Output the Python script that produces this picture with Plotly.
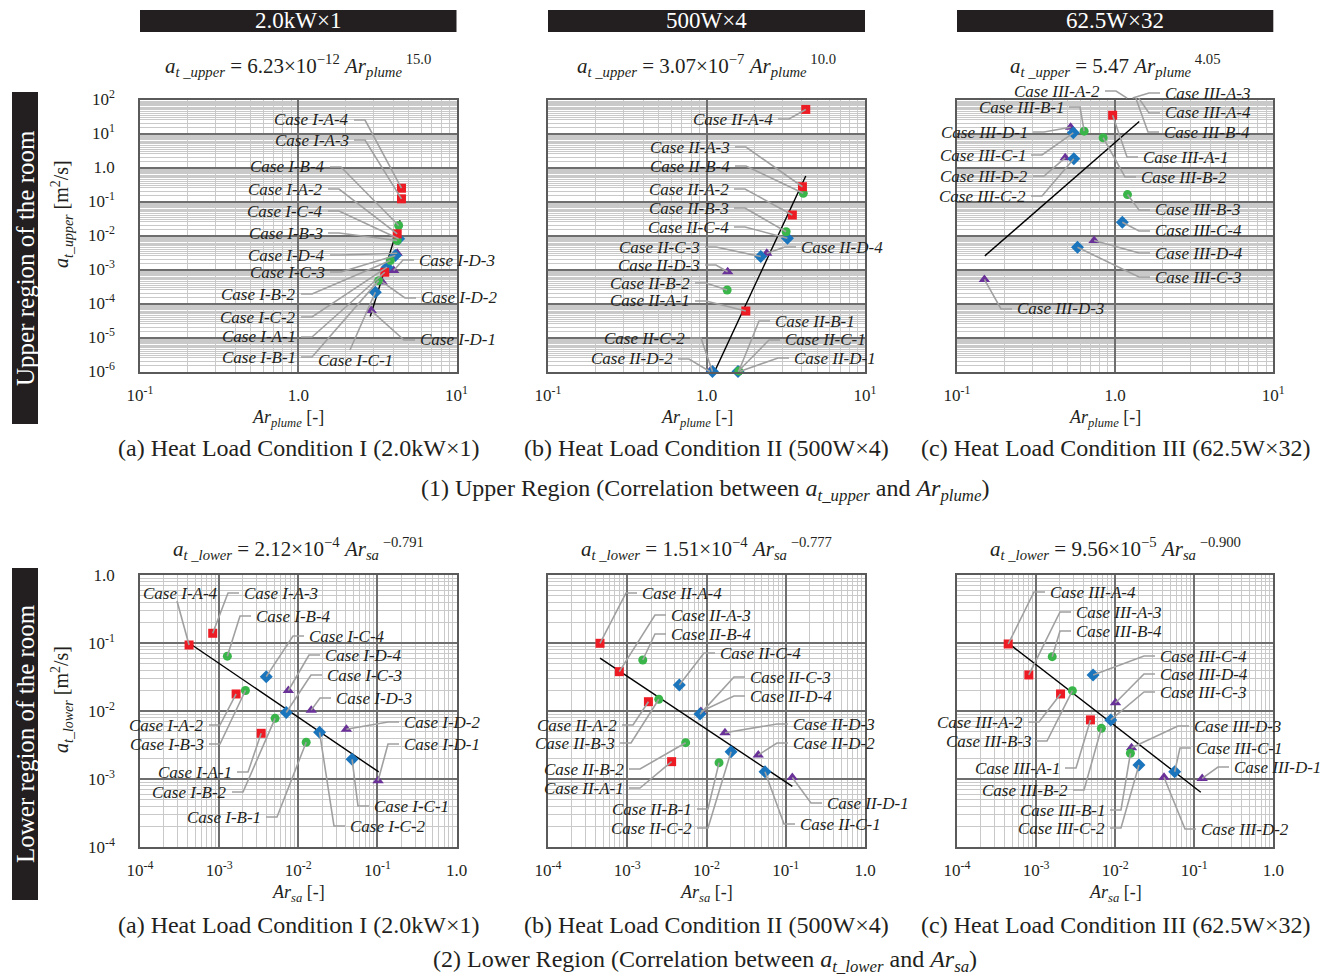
import math
import plotly.graph_objects as go

W, H = 1329, 978
SERIF = "Liberation Serif"
INK = "#231f20"

# ---------------- data ----------------
# Cases 1..4 of every series (A, B, C, D)
# (1) Upper region : x = Ar_plume , y = a_t_upper
up_I_A_x = [3.52, 4.22, 4.49, 4.49]
up_I_A_y = [8.3e-4, 0.0112, 0.12, 0.246]
up_I_B_x = [3.22, 3.82, 4.22, 4.31]
up_I_B_y = [4.7e-4, 1.84e-3, 7.1e-3, 0.0197]
up_I_C_x = [3.07, 3.64, 4.11, 4.31]
up_I_C_y = [2.15e-4, 1.17e-3, 2.58e-3, 8.0e-3]
up_I_D_x = [2.89, 3.39, 4.01, 4.22]
up_I_D_y = [6.2e-5, 4.3e-4, 9.3e-4, 3.0e-3]

up_II_A_x = [1.77, 3.48, 4.03, 4.23]
up_II_A_y = [6.0e-5, 0.040, 0.272, 51.0]
up_II_B_x = [1.60, 1.35, 3.18, 4.08]
up_II_B_y = [1.03e-6, 2.5e-4, 0.0129, 0.174]
up_II_C_x = [1.58, 1.09, 2.20, 3.24]
up_II_C_y = [1.0e-6, 1.0e-6, 2.4e-3, 8.3e-3]
up_II_D_x = [1.62, 1.05, 1.36, 2.40]
up_II_D_y = [1.0e-6, 1.0e-6, 8.6e-4, 3.0e-3]

up_III_A_x = [0.964, 1.19, 1.29, 1.41]
up_III_A_y = [34.5, 110.0, 110.0, 110.0]
up_III_B_x = [0.637, 0.84, 1.197, 1.35]
up_III_B_y = [11.7, 7.5, 0.16, 110.0]
up_III_C_x = [0.544, 0.548, 0.578, 1.11]
up_III_C_y = [10.5, 1.8, 4.5e-3, 0.0246]
up_III_D_x = [0.523, 0.483, 0.149, 0.736]
up_III_D_y = [15.3, 1.93, 5.1e-4, 7.1e-3]

# (2) Lower region : x = Ar_sa , y = a_t_lower
lo_I_A_x = [3.4e-3, 1.64e-3, 8.3e-4, 4.17e-4]
lo_I_A_y = [4.7e-3, 0.0178, 0.139, 0.0935]
lo_I_B_x = [0.0126, 5.1e-3, 2.15e-3, 1.27e-3]
lo_I_B_y = [3.47e-3, 7.8e-3, 0.020, 0.064]
lo_I_C_x = [0.0479, 0.0186, 7.05e-3, 3.94e-3]
lo_I_C_y = [1.95e-3, 4.86e-3, 9.5e-3, 0.032]
lo_I_D_x = [0.102, 0.0406, 0.0146, 7.5e-3]
lo_I_D_y = [9.4e-4, 5.4e-3, 0.0103, 0.020]

lo_II_A_x = [3.63e-3, 1.85e-3, 7.94e-4, 4.53e-4]
lo_II_A_y = [1.8e-3, 0.0137, 0.0379, 0.099]
lo_II_B_x = [0.0144, 5.46e-3, 2.5e-3, 1.57e-3]
lo_II_B_y = [1.74e-3, 3.42e-3, 0.0149, 0.0562]
lo_II_C_x = [0.0547, 0.0204, 8.28e-3, 4.54e-3]
lo_II_C_y = [1.28e-3, 2.52e-3, 9.0e-3, 0.0241]
lo_II_D_x = [0.121, 0.045, 0.0171, 8.5e-3]
lo_II_D_y = [1.05e-3, 2.25e-3, 4.8e-3, 9.8e-3]

lo_III_A_x = [4.87e-3, 2.04e-3, 8.1e-4, 4.44e-4]
lo_III_A_y = [7.4e-3, 0.0178, 0.0339, 0.0967]
lo_III_B_x = [0.0156, 6.7e-3, 2.88e-3, 1.6e-3]
lo_III_B_y = [2.39e-3, 5.56e-3, 0.0199, 0.063]
lo_III_C_x = [0.0566, 0.020, 8.8e-3, 5.26e-3]
lo_III_C_y = [1.28e-3, 1.61e-3, 7.4e-3, 0.0339]
lo_III_D_x = [0.126, 0.0415, 0.0161, 0.0101]
lo_III_D_y = [1.02e-3, 1.06e-3, 2.89e-3, 0.0132]

# correlation lines  a = coef * Ar ** expo , drawn between xmin and xmax
fit_coef = [6.23e-12, 3.07e-7, 5.47, 2.12e-4, 1.51e-4, 9.56e-5]
fit_expo = [15.0, 10.0, 4.05, -0.791, -0.777, -0.900]
fit_xmin = [2.85, 1.09, 0.150, 4.17e-4, 4.53e-4, 4.44e-4]
fit_xmax = [4.40, 4.23, 1.42, 0.104, 0.121, 0.121]

fit_text = [
    "<i>a</i><sub><i>t _upper</i></sub> = 6.23×10<sup>−12</sup> <i>Ar</i><sub><i>plume</i></sub><sup> 15.0</sup>",
    "<i>a</i><sub><i>t _upper</i></sub> = 3.07×10<sup>−7</sup> <i>Ar</i><sub><i>plume</i></sub><sup> 10.0</sup>",
    "<i>a</i><sub><i>t _upper</i></sub> = 5.47 <i>Ar</i><sub><i>plume</i></sub><sup> 4.05</sup>",
    "<i>a</i><sub><i>t _lower</i></sub> = 2.12×10<sup>−4</sup> <i>Ar</i><sub><i>sa</i></sub><sup> −0.791</sup>",
    "<i>a</i><sub><i>t _lower</i></sub> = 1.51×10<sup>−4</sup> <i>Ar</i><sub><i>sa</i></sub><sup> −0.777</sup>",
    "<i>a</i><sub><i>t _lower</i></sub> = 9.56×10<sup>−5</sup> <i>Ar</i><sub><i>sa</i></sub><sup> −0.900</sup>",
]

top_titles = ["2.0kW×1", "500W×4", "62.5W×32"]
captions = ["(a) Heat Load Condition I (2.0kW×1)",
            "(b) Heat Load Condition II (500W×4)",
            "(c) Heat Load Condition III (62.5W×32)"]
row_captions = [
    "(1) Upper Region (Correlation between <i>a</i><sub><i>t_upper</i></sub> and <i>Ar</i><sub><i>plume</i></sub>)",
    "(2) Lower Region (Correlation between <i>a</i><sub><i>t_lower</i></sub> and <i>Ar</i><sub><i>sa</i></sub>)",
]
side_titles = ["Upper region of the room", "Lower region of the room"]
x_titles = ["<i>Ar</i><sub><i>plume</i></sub> [-]", "<i>Ar</i><sub><i>sa</i></sub> [-]"]
y_titles = ["<i>a</i><sub><i>t_upper</i></sub> [m<sup>2</sup>/s]",
            "<i>a</i><sub><i>t_lower</i></sub> [m<sup>2</sup>/s]"]

up_x_ticks = [0.1, 1, 10]
up_x_text = ["10<sup>-1</sup>", "1.0", "10<sup>1</sup>"]
up_y_ticks = [1e-6, 1e-5, 1e-4, 1e-3, 1e-2, 1e-1, 1, 10, 100]
up_y_text = ["10<sup>-6</sup>", "10<sup>-5</sup>", "10<sup>-4</sup>", "10<sup>-3</sup>",
             "10<sup>-2</sup>", "10<sup>-1</sup>", "1.0", "10<sup>1</sup>", "10<sup>2</sup>"]
lo_ticks = [1e-4, 1e-3, 1e-2, 1e-1, 1]
lo_text = ["10<sup>-4</sup>", "10<sup>-3</sup>", "10<sup>-2</sup>", "10<sup>-1</sup>", "1.0"]

# ---------------- styles / layout geometry ----------------
SER_STYLE = {
    "A": dict(symbol="square", color="#ed1c24", size=9),
    "B": dict(symbol="circle", color="#39b54a", size=9),
    "C": dict(symbol="diamond", color="#1b75bc", size=10),
    "D": dict(symbol="triangle-up", color="#6a3198", size=10),
}
LEAD_COLOR = "#a0a0a0"

BOX_X = [(140, 456.5), (548, 865), (957, 1273.3)]
BOX_Y = [(99.5, 371.5), (575, 847)]
RANGES = [((-1, 1), (-6, 2)), ((-4, 0), (-4, 0))]

panel_data = [
    {"A": (up_I_A_x, up_I_A_y), "B": (up_I_B_x, up_I_B_y), "C": (up_I_C_x, up_I_C_y), "D": (up_I_D_x, up_I_D_y)},
    {"A": (up_II_A_x, up_II_A_y), "B": (up_II_B_x, up_II_B_y), "C": (up_II_C_x, up_II_C_y), "D": (up_II_D_x, up_II_D_y)},
    {"A": (up_III_A_x, up_III_A_y), "B": (up_III_B_x, up_III_B_y), "C": (up_III_C_x, up_III_C_y), "D": (up_III_D_x, up_III_D_y)},
    {"A": (lo_I_A_x, lo_I_A_y), "B": (lo_I_B_x, lo_I_B_y), "C": (lo_I_C_x, lo_I_C_y), "D": (lo_I_D_x, lo_I_D_y)},
    {"A": (lo_II_A_x, lo_II_A_y), "B": (lo_II_B_x, lo_II_B_y), "C": (lo_II_C_x, lo_II_C_y), "D": (lo_II_D_x, lo_II_D_y)},
    {"A": (lo_III_A_x, lo_III_A_y), "B": (lo_III_B_x, lo_III_B_y), "C": (lo_III_C_x, lo_III_C_y), "D": (lo_III_D_x, lo_III_D_y)},
]

# label placement (pixel position of text anchor, anchor side)
LABELS = [
    [("I-A-4", 351, 120, "r"), ("I-A-3", 351, 140, "r"), ("I-B-4", 327, 167, "r"), ("I-A-2", 325, 189, "r"),
     ("I-C-4", 325, 211, "r"), ("I-B-3", 325, 233, "r"), ("I-D-4", 327, 255, "r"), ("I-C-3", 327, 272, "r"),
     ("I-B-2", 298, 294, "r"), ("I-C-2", 298, 317, "r"), ("I-A-1", 298, 337, "r"), ("I-B-1", 298, 357, "r"),
     ("I-C-1", 355, 360, "c"), ("I-D-3", 417, 260, "l"), ("I-D-2", 419, 298, "l"), ("I-D-1", 418, 340, "l")],
    [("II-A-4", 775, 119, "r"), ("II-A-3", 732, 147, "r"), ("II-B-4", 732, 166, "r"), ("II-A-2", 731, 189, "r"),
     ("II-B-3", 731, 208, "r"), ("II-C-4", 731, 227, "r"), ("II-C-3", 702, 247, "r"), ("II-D-3", 702, 265, "r"),
     ("II-B-2", 692, 283, "r"), ("II-A-1", 692, 301, "r"), ("II-C-2", 687, 338, "r"), ("II-D-2", 675, 359, "r"),
     ("II-D-4", 799, 247, "l"), ("II-B-1", 773, 321, "l"), ("II-C-1", 783, 340, "l"), ("II-D-1", 792, 358, "l")],
    [("III-A-2", 1102, 91, "r"), ("III-B-1", 1066, 107, "r"), ("III-D-1", 1030, 132, "r"), ("III-C-1", 1028, 155, "r"),
     ("III-D-2", 1030, 176, "r"), ("III-C-2", 1028, 196, "r"), ("III-A-3", 1163, 93, "l"), ("III-A-4", 1163, 113, "l"),
     ("III-B-4", 1162, 132, "l"), ("III-A-1", 1141, 157, "l"), ("III-B-2", 1139, 177, "l"), ("III-B-3", 1153, 210, "l"),
     ("III-C-4", 1153, 231, "l"), ("III-D-4", 1153, 253, "l"), ("III-C-3", 1153, 277, "l"), ("III-D-3", 1015, 309, "l")],
    [("I-A-4", 220, 593, "r"), ("I-A-3", 242, 593, "l"), ("I-B-4", 254, 616, "l"), ("I-C-4", 307, 636, "l"),
     ("I-D-4", 323, 655, "l"), ("I-C-3", 325, 675, "l"), ("I-D-3", 334, 698, "l"), ("I-D-2", 402, 722, "l"),
     ("I-D-1", 402, 744, "l"), ("I-C-1", 372, 806, "l"), ("I-C-2", 348, 826, "l"), ("I-A-2", 206, 725, "r"),
     ("I-B-3", 206, 744, "r"), ("I-A-1", 234, 772, "r"), ("I-B-2", 229, 792, "r"), ("I-B-1", 263, 817, "r")],
    [("II-A-4", 640, 593, "l"), ("II-A-3", 669, 615, "l"), ("II-B-4", 669, 634, "l"), ("II-C-4", 718, 653, "l"),
     ("II-C-3", 748, 677, "l"), ("II-D-4", 748, 696, "l"), ("II-D-3", 791, 724, "l"), ("II-D-2", 791, 743, "l"),
     ("II-D-1", 825, 803, "l"), ("II-C-1", 798, 824, "l"), ("II-A-2", 619, 725, "r"), ("II-B-3", 617, 743, "r"),
     ("II-B-2", 626, 769, "r"), ("II-A-1", 626, 788, "r"), ("II-B-1", 694, 809, "r"), ("II-C-2", 694, 828, "r")],
    [("III-A-4", 1048, 592, "l"), ("III-A-3", 1074, 612, "l"), ("III-B-4", 1074, 631, "l"), ("III-C-4", 1158, 656, "l"),
     ("III-D-4", 1158, 674, "l"), ("III-C-3", 1158, 692, "l"), ("III-D-3", 1192, 726, "l"), ("III-C-1", 1194, 748, "l"),
     ("III-D-1", 1232, 767, "l"), ("III-D-2", 1199, 829, "l"), ("III-A-2", 1025, 722, "r"), ("III-B-3", 1033, 741, "r"),
     ("III-A-1", 1062, 768, "r"), ("III-B-2", 1070, 790, "r"), ("III-B-1", 1107, 810, "r"), ("III-C-2", 1107, 828, "r")],
]
LEAD_START = {(0, "I-C-1"): (350, 350), (3, "I-A-4"): (177, 601)}


def ids(p):
    return ("x", "y") if p == 0 else (f"x{p+1}", f"y{p+1}")


def to_px(p, x, y):
    r, c = divmod(p, 3)
    x0, x1 = BOX_X[c]
    y0, y1 = BOX_Y[r]
    (rx0, rx1), (ry0, ry1) = RANGES[r]
    lx, ly = math.log10(x), math.log10(y)
    return (x0 + (lx - rx0) / (rx1 - rx0) * (x1 - x0),
            y0 + (ry1 - ly) / (ry1 - ry0) * (y1 - y0))


def fx(px):
    return px / W


def fy(py):
    return 1 - py / H


def note(text, px, py, size, color=INK, xanchor="center", angle=0):
    return dict(text=text, x=fx(px), y=fy(py), xref="paper", yref="paper", xanchor=xanchor,
                yanchor="middle", textangle=angle, showarrow=False,
                font=dict(family=SERIF, size=size, color=color))


fig = go.Figure()
shapes = []
annotations = []

for p in range(6):
    xid, yid = ids(p)
    # correlation line
    xs = [fit_xmin[p], fit_xmax[p]]
    ys = [fit_coef[p] * v ** fit_expo[p] for v in xs]
    fig.add_trace(go.Scatter(x=xs, y=ys, mode="lines", xaxis=xid, yaxis=yid,
                             line=dict(color="black", width=1.4), showlegend=False, hoverinfo="skip"))
    for s in ["D", "C", "B", "A"]:
        xv, yv = panel_data[p][s]
        st = SER_STYLE[s]
        fig.add_trace(go.Scatter(x=xv, y=yv, mode="markers", xaxis=xid, yaxis=yid, cliponaxis=False,
                                 marker=dict(symbol=st["symbol"], color=st["color"], size=st["size"],
                                             line=dict(width=0)),
                                 showlegend=False, name=s))
    # labels and leader lines
    for name, lpx, lpy, side in LABELS[p]:
        _, s, k = name.split("-")
        xv, yv = panel_data[p][s]
        tx, ty = to_px(p, xv[int(k) - 1], yv[int(k) - 1])
        annotations.append(note(f"<i>Case {name}</i>", lpx, lpy, 17,
                                xanchor={"r": "right", "l": "left", "c": "center"}[side]))
        if (p, name) in LEAD_START:
            sx, sy = LEAD_START[(p, name)]
            pts = [(sx, sy), (tx, ty)]
        elif side == "r":
            pts = [(lpx + 3, lpy), (lpx + 14, lpy), (tx, ty)]
        else:
            pts = [(lpx - 3, lpy), (lpx - 14, lpy), (tx, ty)]
        path = "M " + " L ".join(f"{fx(a):.5f},{fy(b):.5f}" for a, b in pts)
        shapes.append(dict(type="path", path=path, xref="paper", yref="paper",
                           line=dict(color=LEAD_COLOR, width=1.6), layer="above"))

# axes
def minor_vals(decades, steps):
    return [d * k for d in decades for k in steps]

up_x_minor = minor_vals([0.1, 1], range(2, 10))
up_y_minor = minor_vals([10.0 ** e for e in range(-6, 2)], [k / 2 for k in range(3, 20)])
lo_minor = minor_vals([10.0 ** e for e in range(-4, 0)], range(2, 10))

layout_axes = {}
for p in range(6):
    r, c = divmod(p, 3)
    xid, yid = ids(p)
    xname = "xaxis" if p == 0 else f"xaxis{p+1}"
    yname = "yaxis" if p == 0 else f"yaxis{p+1}"
    x0, x1 = BOX_X[c]
    y0, y1 = BOX_Y[r]
    (rx0, rx1), (ry0, ry1) = RANGES[r]
    common = dict(type="log", showline=True, mirror=True, linecolor="#5a5a5a", linewidth=1.5,
                  showgrid=True, gridcolor="#6e6e6e", gridwidth=1.5, zeroline=False, ticks="",
                  tickmode="array", tickfont=dict(family=SERIF, size=17, color=INK), fixedrange=True)
    if r == 0:
        xt, xtt, xm = up_x_ticks, up_x_text, up_x_minor
        yt, ytt, ym = up_y_ticks, up_y_text, up_y_minor
    else:
        xt, xtt, xm = lo_ticks, lo_text, lo_minor
        yt, ytt, ym = lo_ticks, lo_text, lo_minor
    layout_axes[xname] = dict(common, range=[rx0, rx1], domain=[fx(x0), fx(x1)], anchor=yid,
                              tickvals=xt, ticktext=xtt, ticklabelstandoff=7,
                              minor=dict(tickmode="array", tickvals=xm, showgrid=True,
                                         gridcolor="#c9c9c9", gridwidth=1, ticks=""))
    layout_axes[yname] = dict(common, range=[ry0, ry1], domain=[fy(y1), fy(y0)], anchor=xid,
                              tickvals=yt, ticktext=ytt, showticklabels=(c == 0), ticklabelstandoff=20,
                              minor=dict(tickmode="array", tickvals=ym, showgrid=True,
                                         gridcolor="#c9c9c9", gridwidth=1, ticks=""))

# decorations
for c in range(3):
    x0, x1 = BOX_X[c]
    cx = (x0 + x1) / 2
    shapes.append(dict(type="rect", xref="paper", yref="paper", x0=fx(x0), x1=fx(x1), y0=fy(32), y1=fy(10),
                       fillcolor=INK, line=dict(width=0), layer="below"))
    annotations.append(note(top_titles[c], cx, 21, 23, color="white"))
    for r in range(2):
        p = r * 3 + c
        annotations.append(note(fit_text[p], cx, 65 if r == 0 else 548, 21))
        annotations.append(note(captions[c], cx, 448 if r == 0 else 925, 24))
        annotations.append(note(x_titles[r], cx - 10 if r == 0 else cx, 418 if r == 0 else 893, 18))

for r in range(2):
    yb0, yb1 = (92, 424) if r == 0 else (568, 900)
    shapes.append(dict(type="rect", xref="paper", yref="paper", x0=fx(12), x1=fx(38), y0=fy(yb1), y1=fy(yb0),
                       fillcolor=INK, line=dict(width=0), layer="below"))
    annotations.append(note(side_titles[r], 25, (yb0 + yb1) / 2, 25, color="white", angle=-90))
    annotations.append(note(y_titles[r], 62, 214 if r == 0 else 700, 20, angle=-90))
    annotations.append(note(row_captions[r], 705, 490 if r == 0 else 961, 24))

fig.update_layout(width=W, height=H, margin=dict(l=0, r=0, t=0, b=0, autoexpand=False),
                  paper_bgcolor="white", plot_bgcolor="white", showlegend=False,
                  shapes=shapes, annotations=annotations,
                  font=dict(family=SERIF, color=INK), **layout_axes)

fig.write_html("out.html")
